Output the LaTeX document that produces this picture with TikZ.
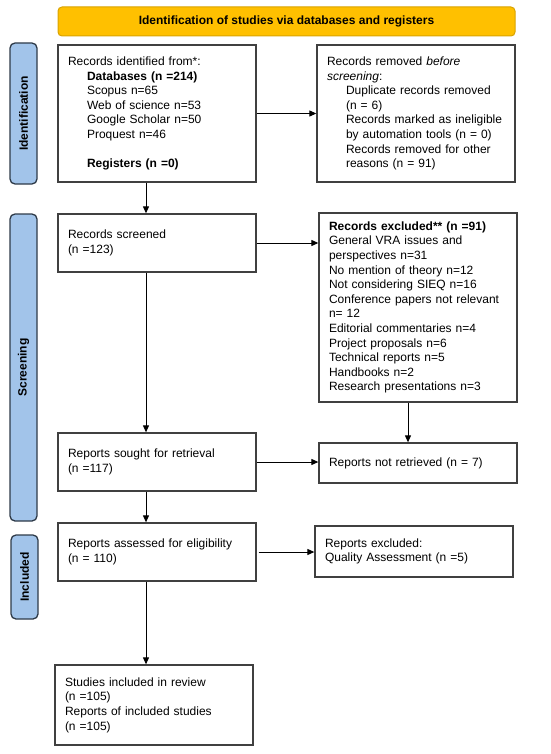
\documentclass[tikz,border=0pt]{standalone}
\usepackage{fontspec}
\setmainfont{Liberation Sans}
\usetikzlibrary{arrows.meta,calc}
\definecolor{gold}{HTML}{FFC000}
\definecolor{goldline}{HTML}{D9A300}
\definecolor{phase}{HTML}{A2C4EA}
\definecolor{phaseline}{HTML}{2E3A48}
\definecolor{boxline}{HTML}{404040}
\begin{document}
\begin{tikzpicture}[x=1pt,y=-1pt,
  every node/.style={font=\fontsize{12}{14.6}\selectfont},
  flowbox/.style={draw=boxline,line width=1.3pt,fill=white,inner xsep=10pt,inner ysep=2pt,
    text width=178pt,minimum width=198pt,align=left},
  phasebox/.style={draw=phaseline,line width=1.3pt,fill=phase,rounded corners=5pt,
    minimum width=27pt,inner sep=0pt,font=\fontsize{12}{14}\selectfont\bfseries},
  arr/.style={draw=black,line width=1pt,-{Triangle[length=7pt,width=6pt]}}]
\useasboundingbox (0,0) rectangle (550,754);

% header
\node[draw=goldline,line width=1pt,fill=gold,rounded corners=4pt,minimum width=457pt,minimum height=29pt,
  font=\fontsize{12}{14}\selectfont\bfseries] (hdr) at (286.5,21.5) {Identification of studies via databases and registers};

% phase labels
\node[phasebox,minimum height=141pt] (pid) at (23.5,113.5) {\rotatebox{90}{Identification}};
\node[phasebox,minimum height=307pt] (pscr) at (23.5,367.5) {\rotatebox{90}{Screening}};
\node[phasebox,minimum height=84pt] (pinc) at (24.5,577) {\rotatebox{90}{Included}};

% boxes
\node[flowbox,minimum height=137pt] (b1) at (157,113.5) {Records identified from*:\\
\hspace*{19pt}\textbf{Databases (n =214)}\\
\hspace*{19pt}Scopus n=65\\
\hspace*{19pt}Web of science n=53\\
\hspace*{19pt}Google Scholar n=50\\
\hspace*{19pt}Proquest n=46\\[14.6pt]
\hspace*{19pt}\textbf{Registers (n =0)}};

\node[flowbox,minimum height=137pt] (b2) at (416,113.5) {Records removed \textit{before}\\
\textit{screening}:\\
\hspace*{19pt}Duplicate records removed\\
\hspace*{19pt}(n = 6)\\
\hspace*{19pt}Records marked as ineligible\\
\hspace*{19pt}by automation tools (n = 0)\\
\hspace*{19pt}Records removed for other\\
\hspace*{19pt}reasons (n = 91)};

\node[flowbox,minimum height=58pt] (scr) at (157,243) {Records screened\\(n =123)};

\node[flowbox,minimum height=189pt] (exc) at (418,307.5) {\textbf{Records excluded** (n =91)}\\
General VRA issues and\\
perspectives n=31\\
No mention of theory n=12\\
Not considering SIEQ n=16\\
Conference papers not relevant\\
n= 12\\
Editorial commentaries n=4\\
Project proposals n=6\\
Technical reports n=5\\
Handbooks n=2\\
Research presentations n=3};

\node[flowbox,minimum height=58pt] (sou) at (157,462) {Reports sought for retrieval\\(n =117)};
\node[flowbox,minimum height=40pt] (nr) at (418,463) {Reports not retrieved (n = 7)};

\node[flowbox,minimum height=58pt] (ass) at (157,552) {Reports assessed for eligibility\\(n = 110)};
\node[flowbox,minimum height=51pt] (rex) at (414,551.5) {Reports excluded:\\Quality Assessment (n =5)\\[-4pt]};

\node[flowbox,minimum height=80pt] (inc) at (154,705) {Studies included in review\\(n =105)\\Reports of included studies\\(n =105)};

% connectors
\draw[arr] (b1.east) -- (b2.west);
\draw[arr] ([xshift=-11pt]b1.south) -- ([xshift=-11pt]b1.south |- scr.north);
\draw[arr] (scr.east) -- (scr.east -| exc.west);
\draw[arr] ([xshift=-11pt]scr.south) -- ([xshift=-11pt]scr.south |- sou.north);
\draw[arr] ([xshift=-10pt]exc.south) -- ([xshift=-10pt]exc.south |- nr.north);
\draw[arr] (sou.east) -- (sou.east -| nr.west);
\draw[arr] ([xshift=-11pt]sou.south) -- ([xshift=-11pt]sou.south |- ass.north);
\draw[arr] ([xshift=2pt]ass.east) -- (ass.east -| rex.west);
\draw[arr] ([xshift=-11pt]ass.south) -- ([xshift=-11pt]ass.south |- inc.north);
\end{tikzpicture}
\end{document}
